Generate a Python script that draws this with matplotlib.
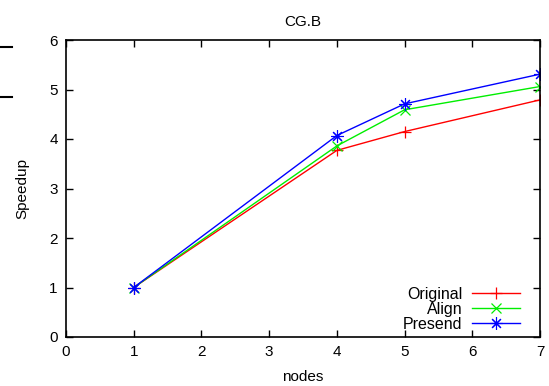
import matplotlib
matplotlib.use("Agg")
import matplotlib.pyplot as plt
from matplotlib.lines import Line2D

plt.rcParams['font.family'] = ['Liberation Sans', 'DejaVu Sans']

nodes = [1, 4, 5, 7]
original = [1.0, 3.77, 4.15, 4.79]
align = [1.0, 3.86, 4.59, 5.06]
presend = [1.0, 4.07, 4.71, 5.31]

fig = plt.figure(figsize=(5.49, 3.86), dpi=100)
ax = fig.add_axes([66 / 549, 49 / 386, 474 / 549, 297 / 386])

ax.plot(nodes, original, color='#ff0000', lw=1, marker='+', ms=9, mew=0.9, label='Original')
ax.plot(nodes, align, color='#00ee00', lw=1, marker='x', ms=7, mew=0.9, label='Align')
ax.plot(nodes, presend, color='#0000ff', lw=1, marker=(8, 2, 0), ms=9, mew=0.8, label='Presend')

ax.set_xlim(0, 7)
ax.set_ylim(0, 6)
ax.set_xticks(range(0, 8))
ax.set_yticks(range(0, 7))
ax.tick_params(direction='in', top=True, right=True, length=5, width=1, labelsize=11, pad=6)
for s in ax.spines.values():
    s.set_linewidth(1.2)

ax.set_title('CG.B', fontsize=11, pad=10)
ax.set_xlabel('nodes', fontsize=11, labelpad=8)
ax.set_ylabel('Speedup', fontsize=11, labelpad=14)

leg = ax.legend(loc='lower right', frameon=False, fontsize=11.5, markerfirst=False,
                handlelength=3.0, handletextpad=0.6, labelspacing=0.0,
                borderpad=0, borderaxespad=0, bbox_to_anchor=(454 / 474, 0.018))
for t in leg.get_texts():
    t.set_ha('right')

# stray tick marks at the left edge
for yy in (47, 97):
    fig.add_artist(Line2D([0, 12 / 549], [1 - yy / 386, 1 - yy / 386],
                          transform=fig.transFigure, color='black', lw=1.5))

fig.savefig('out.png', dpi=100)
